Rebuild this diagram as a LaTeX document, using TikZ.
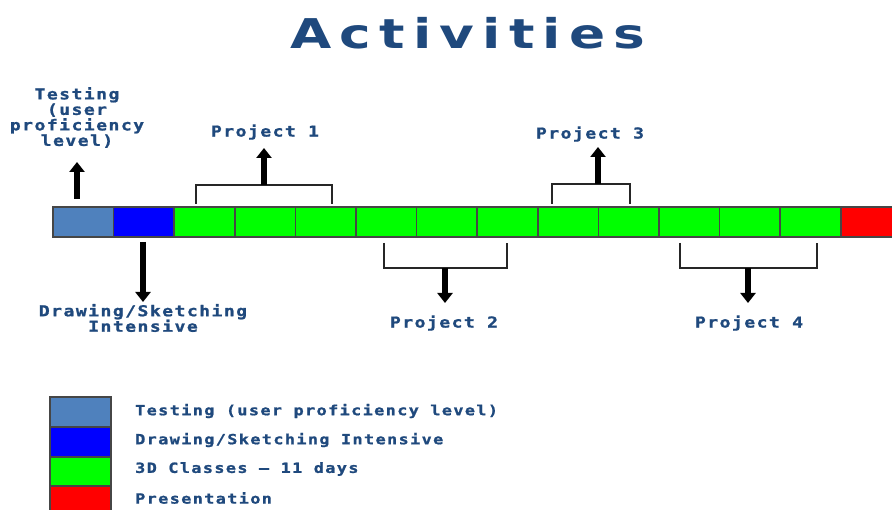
\documentclass[tikz,border=0pt]{standalone}
\usepackage{fontspec}
\usetikzlibrary{arrows.meta}
\newfontfamily\titlefont[FakeStretch=1.3,LetterSpace=20]{DejaVu Sans}
\newfontfamily\lblfont[FakeStretch=1.2,LetterSpace=10,BoldFont={DejaVu Sans Mono Bold},BoldFeatures={FakeBold=1.2}]{DejaVu Sans Mono}
\definecolor{txtblue}{RGB}{31,73,125}
\definecolor{tblue}{RGB}{79,129,189}
\definecolor{dblue}{RGB}{0,0,255}
\definecolor{grn}{RGB}{0,255,0}
\definecolor{rd}{RGB}{255,0,0}
\definecolor{cellborder}{RGB}{70,70,70}
\begin{document}
\begin{tikzpicture}[x=1pt,y=-1pt,
  cell/.style={draw=cellborder, line width=1.5pt, minimum width=60.6pt, minimum height=30pt, inner sep=0pt, outer sep=0pt, anchor=north west},
  legbox/.style={draw=cellborder, line width=1.5pt, minimum width=61pt, minimum height=30pt, inner sep=0pt, outer sep=0pt, anchor=north west},
  lbl/.style={text=txtblue, font=\lblfont\bfseries\fontsize{15}{15.5}\selectfont, align=center, inner sep=0pt},
  legtext/.style={text=txtblue, font=\lblfont\bfseries\fontsize{14}{15}\selectfont, anchor=west, inner sep=0pt},
  blockarrow/.style={line width=5.5pt, -{Triangle[width=15pt,length=10pt]}},
  bracket/.style={draw=black!85, line width=1.4pt}]
\clip (0,0) rectangle (892,510);
\fill[white] (0,0) rectangle (892,510);

% title
\node[text=txtblue, font=\titlefont\bfseries\fontsize{41}{44}\selectfont, inner sep=0pt] (title) at (468,33) {Activities};

% timeline cells
\foreach \i/\col in {0/tblue,1/dblue,2/grn,3/grn,4/grn,5/grn,6/grn,7/grn,8/grn,9/grn,10/grn,11/grn,12/grn,13/rd}
  \node[cell, fill=\col] (c\i) at ({53+60.6*\i},207) {};

% Testing
\node[lbl] (testlbl) at (77,117.5) {Testing\\(user\\proficiency\\level)};
\coordinate (ta) at (77,199);
\coordinate (tb) at (77,162);
\draw[blockarrow] (ta) -- (tb);

% Drawing
\coordinate (da) at (143,242);
\coordinate (db) at (143,302);
\draw[blockarrow] (da) -- (db);
\node[lbl] (drawlbl) at (143,318) {Drawing/Sketching\\Intensive};

% Project 1
\coordinate (p1l) at (196,204);
\coordinate (p1r) at (332,204);
\coordinate (p1m) at (264,185);
\coordinate (p1t) at (264,148);
\draw[bracket] (p1l) |- (p1r |- p1m) -- (p1r);
\draw[blockarrow] (p1m) -- (p1t);
\node[lbl] (p1lbl) at (265,132) {Project 1};

% Project 3
\coordinate (p3l) at (552,204);
\coordinate (p3r) at (630,204);
\coordinate (p3m) at (598,184);
\coordinate (p3t) at (598,147);
\draw[bracket] (p3l) |- (p3r |- p3m) -- (p3r);
\draw[blockarrow] (p3m) -- (p3t);
\node[lbl] (p3lbl) at (590,134) {Project 3};

% Project 2
\coordinate (p2l) at (384,243);
\coordinate (p2r) at (507,243);
\coordinate (p2m) at (445,268);
\coordinate (p2b) at (445,303);
\draw[bracket] (p2l) |- (p2r |- p2m) -- (p2r);
\draw[blockarrow] (p2m) -- (p2b);
\node[lbl] (p2lbl) at (444,323) {Project 2};

% Project 4
\coordinate (p4l) at (680,243);
\coordinate (p4r) at (817,243);
\coordinate (p4m) at (748,268);
\coordinate (p4b) at (748,303);
\draw[bracket] (p4l) |- (p4r |- p4m) -- (p4r);
\draw[blockarrow] (p4m) -- (p4b);
\node[lbl] (p4lbl) at (749,323) {Project 4};

% legend
\node[legbox, fill=tblue] (l1) at (50,397) {};
\node[legbox, fill=dblue] (l2) at (50,427) {};
\node[legbox, fill=grn] (l3) at (50,457) {};
\node[legbox, fill=rd] (l4) at (50,486) {};
\node[legtext] (t1) at (135,411) {Testing (user proficiency level)};
\node[legtext] (t2) at (135,440) {Drawing/Sketching Intensive};
\node[legtext] (t3) at (135,469) {3D Classes – 11 days};
\node[legtext] (t4) at (135,498) {Presentation};
\end{tikzpicture}
\end{document}
